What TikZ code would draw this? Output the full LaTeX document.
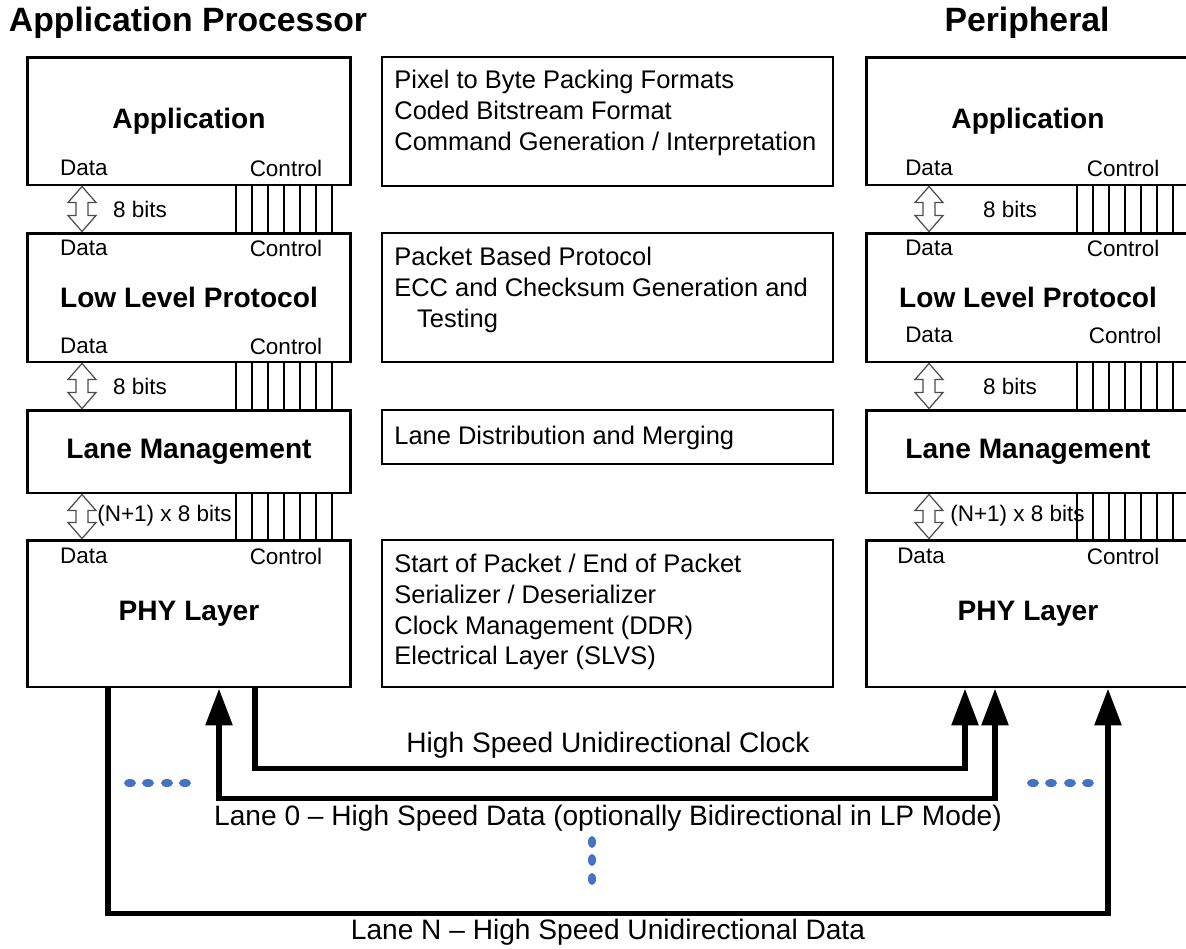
\documentclass[tikz,border=0pt]{standalone}
\usepackage{fontspec}
\setmainfont{Liberation Sans}
\usetikzlibrary{arrows.meta,calc}

\definecolor{dotblue}{RGB}{68,114,196}
\tikzset{hstip/.tip={Triangle[length=7.4mm,width=5.2mm]}}

% hollow double arrow between two data points
\newcommand{\bitsarrow}[2]{%
  \draw[bitbus] (#1) -- ($(#1)+(14,16)$) -- ($(#1)+(6,16)$) -- ($(#2)+(6,-16)$)
    -- ($(#2)+(14,-16)$) -- (#2) -- ($(#2)+(-14,-16)$) -- ($(#2)+(-6,-16)$)
    -- ($(#1)+(-6,16)$) -- ($(#1)+(-14,16)$) -- cycle;}

\begin{document}
\begin{tikzpicture}[x=0.02cm,y=-0.02cm,
  layer/.style={draw,line width=1.7pt,inner sep=0pt,minimum width=6.48cm,font=\fontsize{16}{19}\selectfont\bfseries},
  descbox/.style={draw,line width=0.9pt,inner sep=0pt,minimum width=9.02cm},
  desc/.style={anchor=west,align=left,inner sep=0pt,font=\fontsize{14.5}{17.6}\selectfont},
  lbl/.style={inner sep=0pt,font=\fontsize{12.8}{15}\selectfont},
  title/.style={inner sep=0pt,font=\fontsize{19.2}{23}\selectfont\bfseries},
  lane/.style={inner sep=0pt,font=\fontsize{16}{19}\selectfont},
  bitbus/.style={draw=black!70,fill=white,line width=0.7pt},
  ctl/.style={line width=0.8pt},
  hs/.style={line width=3.4pt},
  dot/.style={fill=dotblue}]
  \useasboundingbox (0,0) rectangle (1186,948);
  \clip (0,0) rectangle (1186,948);

  \node[title] (apTitle) at (188,23) {Application Processor};
  \node[title] (perTitle) at (1027,23) {Peripheral};

  % application processor side
  \node[layer,minimum height=2.56cm] (appL) at (189,121) {Application};
  \node[layer,minimum height=2.58cm] (llpL) at (189,297.5) {Low Level Protocol};
  \node[layer,minimum height=1.66cm] (lmL) at (189,451.5) {Lane Management};
  \node[layer,minimum height=2.94cm] (phyL) at (189,613.5) {PHY Layer};

  % peripheral side
  \node[layer,minimum height=2.56cm] (appR) at (1028,121) {Application};
  \node[layer,minimum height=2.58cm] (llpR) at (1028,297.5) {Low Level Protocol};
  \node[layer,minimum height=1.66cm] (lmR) at (1028,451.5) {Lane Management};
  \node[layer,minimum height=2.94cm] (phyR) at (1028,613.5) {PHY Layer};

  % functions of each layer
  \node[descbox,minimum height=2.58cm] (fnBox) at (607.5,121.5) {};
  \node[descbox,minimum height=2.58cm] (protoBox) at (607.5,297.5) {};
  \node[descbox,minimum height=1.08cm] (laneBox) at (607.5,437) {};
  \node[descbox,minimum height=2.94cm] (phyBox) at (607.5,613.5) {};
  \node[desc] (fnTxt) at (394,113) {Pixel to Byte Packing Formats\\Coded Bitstream Format\\Command Generation / Interpretation};
  \node[desc] (protoTxt) at (394,290) {Packet Based Protocol\\ECC and Checksum Generation and\\\hspace*{13pt}Testing};
  \node[desc] (laneTxt) at (394,438) {Lane Distribution and Merging};
  \node[desc] (phyTxt) at (394,612) {Start of Packet / End of Packet\\Serializer / Deserializer\\Clock Management (DDR)\\Electrical Layer (SLVS)};

  % data / control labels
  \node[lbl] (dAL) at (84,168) {Data};     \node[lbl] (cAL) at (286,168) {Control};
  \node[lbl] (dBL) at (84,248) {Data};     \node[lbl] (cBL) at (286,248) {Control};
  \node[lbl] (dCL) at (84,346) {Data};     \node[lbl] (cCL) at (286,346) {Control};
  \node[lbl] (dDL) at (84,556) {Data};     \node[lbl] (cDL) at (286,556) {Control};
  \node[lbl] (dAR) at (929,168) {Data};    \node[lbl] (cAR) at (1123,168) {Control};
  \node[lbl] (dBR) at (929,248) {Data};    \node[lbl] (cBR) at (1123,248) {Control};
  \node[lbl] (dCR) at (929,335) {Data};    \node[lbl] (cCR) at (1125,335) {Control};
  \node[lbl] (dDR) at (921,556) {Data};    \node[lbl] (cDR) at (1123,556) {Control};

  % control lines
  \foreach \x in {236,252,...,332} {
    \draw[ctl] (appL.south -| \x,0) -- (llpL.north -| \x,0);
    \draw[ctl] (llpL.south -| \x,0) -- (lmL.north -| \x,0);
    \draw[ctl] (lmL.south -| \x,0) -- (phyL.north -| \x,0);
  }
  \foreach \x in {1077,1093,...,1189} {
    \draw[ctl] (appR.south -| \x,0) -- (llpR.north -| \x,0);
    \draw[ctl] (llpR.south -| \x,0) -- (lmR.north -| \x,0);
    \draw[ctl] (lmR.south -| \x,0) -- (phyR.north -| \x,0);
  }

  % data buses
  \bitsarrow{appL.south -| 82,0}{llpL.north -| 82,0}
  \bitsarrow{llpL.south -| 82,0}{lmL.north -| 82,0}
  \bitsarrow{lmL.south -| 82,0}{phyL.north -| 82,0}
  \bitsarrow{appR.south -| 929,0}{llpR.north -| 929,0}
  \bitsarrow{llpR.south -| 929,0}{lmR.north -| 929,0}
  \bitsarrow{lmR.south -| 929,0}{phyR.north -| 929,0}
  \node[lbl] (bitsAL) at (140,209) {8 bits};
  \node[lbl] (bitsBL) at (140,386) {8 bits};
  \node[lbl,anchor=west] (bitsCL) at (97,516) {(N+1) x 8 bits};
  \node[lbl] (bitsAR) at (1010,209) {8 bits};
  \node[lbl] (bitsBR) at (1010,386) {8 bits};
  \node[lbl,anchor=west] (bitsCR) at (950,516) {(N+1) x 8 bits};

  % high speed lanes
  \draw[hs,-hstip] (phyL.south -| 255,0) -- ++(0,80) -| (phyR.south -| 965,0);
  \draw[hs,hstip-hstip] (phyL.south -| 219,0) -- ++(0,110) -| (phyR.south -| 995,0);
  \draw[hs,-hstip] (phyL.south -| 108,0) -- ++(0,225) -| (phyR.south -| 1108,0);
  \node[lane] (clkLbl) at (608,745) {High Speed Unidirectional Clock};
  \node[lane] (lane0Lbl) at (608,818) {Lane 0 -- High Speed Data (optionally Bidirectional in LP Mode)};
  \node[lane] (laneNLbl) at (608,932) {Lane N -- High Speed Unidirectional Data};

  % more lanes
  \fill[dot] (130,783) ellipse [x radius=0.12cm,y radius=0.08cm];
  \fill[dot] (148,783) ellipse [x radius=0.12cm,y radius=0.08cm];
  \fill[dot] (167,783) ellipse [x radius=0.12cm,y radius=0.08cm];
  \fill[dot] (185,783) ellipse [x radius=0.12cm,y radius=0.08cm];
  \fill[dot] (1033,783) ellipse [x radius=0.12cm,y radius=0.08cm];
  \fill[dot] (1051,783) ellipse [x radius=0.12cm,y radius=0.08cm];
  \fill[dot] (1070,783) ellipse [x radius=0.12cm,y radius=0.08cm];
  \fill[dot] (1088,783) ellipse [x radius=0.12cm,y radius=0.08cm];
  \fill[dot] (592,842) ellipse [x radius=0.08cm,y radius=0.12cm];
  \fill[dot] (592,860) ellipse [x radius=0.08cm,y radius=0.12cm];
  \fill[dot] (592,879) ellipse [x radius=0.08cm,y radius=0.12cm];
\end{tikzpicture}
\end{document}
